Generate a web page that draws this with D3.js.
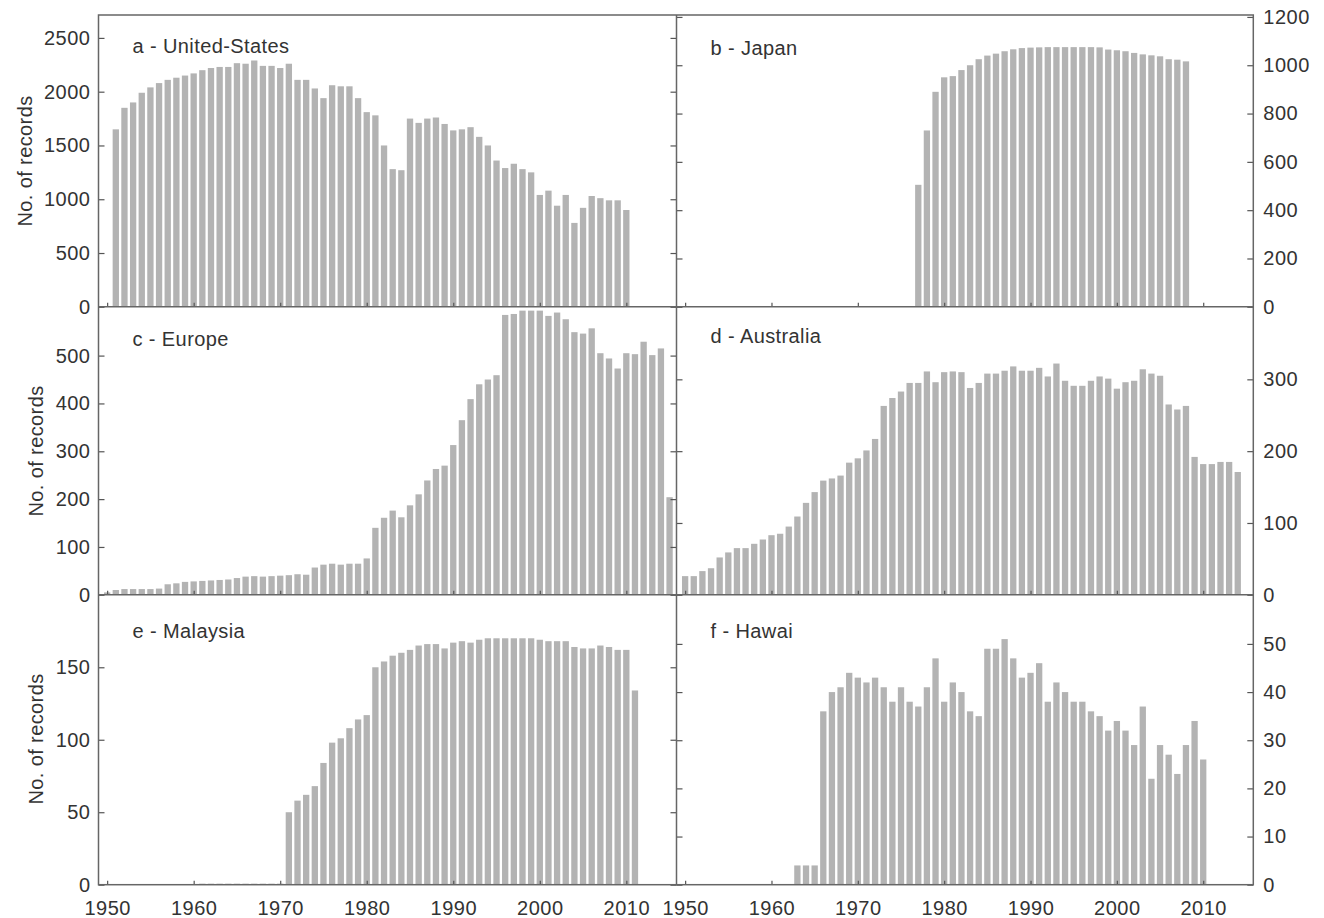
<!DOCTYPE html>
<meta charset="utf-8">
<style>
  body { margin: 0; background: #fff; }
  text { font-family: "Liberation Sans", Arial, Helvetica, sans-serif; fill: #333; }
</style>
<body>
<div id="chart"></div>
<script src="https://d3js.org/d3.v7.min.js"></script>
<script>
// ---- data ----
var usStart = 1951;
var usValues = [1650, 1850, 1900, 1990, 2040, 2080, 2110, 2130, 2150, 2170,
  2200, 2220, 2230, 2230, 2265, 2260, 2290, 2240, 2240, 2220,
  2260, 2110, 2110, 2030, 1940, 2060, 2050, 2050, 1940, 1810,
  1780, 1500, 1280, 1270, 1750, 1710, 1750, 1760, 1700, 1640,
  1650, 1670, 1580, 1500, 1360, 1290, 1330, 1280, 1250, 1040,
  1080, 940, 1040, 780, 920, 1030, 1010, 990, 990, 900];

var japanStart = 1977;
var japanValues = [505, 730, 890, 950, 955, 980, 1000, 1025, 1040, 1048,
  1058, 1066, 1071, 1073, 1074, 1075, 1075, 1075, 1075, 1075,
  1075, 1074, 1065, 1062, 1058, 1051, 1045, 1041, 1037, 1025,
  1023, 1016];

var europeStart = 1950;
var europeValues = [5, 10, 12, 12, 12, 12, 13, 22, 24, 27,
  28, 29, 30, 31, 32, 35, 38, 39, 38, 39,
  40, 41, 43, 42, 57, 63, 65, 63, 65, 65,
  76, 140, 161, 176, 162, 187, 210, 239, 263, 270,
  313, 365, 409, 440, 450, 459, 585, 587, 594, 594,
  594, 583, 590, 576, 549, 546, 557, 505, 494, 473,
  505, 503, 529, 501, 515, 204];

var australiaStart = 1950;
var australiaValues = [26, 26, 33, 37, 52, 59, 65, 65, 71, 77,
  83, 85, 95, 109, 128, 143, 159, 162, 166, 184,
  190, 201, 217, 263, 274, 283, 295, 295, 311, 296,
  310, 311, 310, 288, 295, 308, 308, 312, 318, 312,
  312, 316, 304, 322, 298, 291, 291, 298, 304, 301,
  287, 296, 298, 314, 308, 305, 265, 258, 263, 192,
  182, 182, 185, 185, 171];

var malaysiaStart = 1961;
var malaysiaValues = [0.7, 0.7, 0.7, 0.7, 0.7, 0.7, 0.7, 0.7, 0.7, 0.7,
  50, 58, 62, 68, 84, 98, 101, 108, 114, 117,
  150, 154, 158, 160, 162, 165, 166, 166, 163, 167,
  168, 167, 169, 170, 170, 170, 170, 170, 170, 169,
  168, 168, 168, 164, 163, 163, 165, 164, 162, 162, 134];

var hawaiStart = 1963;
var hawaiValues = [4, 4, 4, 36, 40, 41, 44, 43, 42, 43,
  41, 38, 41, 38, 37, 41, 47, 38, 42, 40,
  36, 35, 49, 49, 51, 47, 43, 44, 46, 38,
  42, 40, 38, 38, 36, 35, 32, 34, 32, 29,
  37, 22, 29, 27, 23, 29, 34, 26];

var panelNames = ["a - United-States", "b - Japan", "c - Europe",
  "d - Australia", "e - Malaysia", "f - Hawai"];

var usTicks = [0, 500, 1000, 1500, 2000, 2500];
var japanTicks = [0, 200, 400, 600, 800, 1000, 1200];
var europeTicks = [0, 100, 200, 300, 400, 500];
var australiaTicks = [0, 100, 200, 300];
var malaysiaTicks = [0, 50, 100, 150];
var hawaiTicks = [0, 10, 20, 30, 40, 50];
var yearTicks = [1950, 1960, 1970, 1980, 1990, 2000, 2010];
var yTitle = "No. of records";

// ---- layout ----
var width = 1324, height = 918;
var cols = [{ x0: 98.5, x1: 676.5 }, { x0: 676.5, x1: 1253.3 }];
var rows = [{ y0: 15, y1: 306.8 }, { y0: 306.8, y1: 594.8 }, { y0: 594.8, y1: 884.7 }];
var xDomain = [1949, 2015.8];

var panels = [
  { name: panelNames[0], start: usStart, values: usValues, ticks: usTicks, top: 2713, labelY: 31 },
  { name: panelNames[1], start: japanStart, values: japanValues, ticks: japanTicks, top: 1208, labelY: 33 },
  { name: panelNames[2], start: europeStart, values: europeValues, ticks: europeTicks, top: 602, labelY: 32 },
  { name: panelNames[3], start: australiaStart, values: australiaValues, ticks: australiaTicks, top: 401, labelY: 29 },
  { name: panelNames[4], start: malaysiaStart, values: malaysiaValues, ticks: malaysiaTicks, top: 200, labelY: 36 },
  { name: panelNames[5], start: hawaiStart, values: hawaiValues, ticks: hawaiTicks, top: 60.2, labelY: 36 }
];
var titlePos = [[25, 161], [36, 451], [36, 739]];

var svg = d3.select("#chart")
  .append("svg")
  .attr("width", width)
  .attr("height", height);

panels.forEach(function (p, i) {
  var col = cols[i % 2], row = rows[Math.floor(i / 2)];
  var isLeft = i % 2 === 0, isBottom = Math.floor(i / 2) === 2;

  var x = d3.scaleLinear().domain(xDomain).range([col.x0, col.x1]);
  var y = d3.scaleLinear().domain([0, p.top]).range([row.y1, row.y0]);
  var bw = (x(1951) - x(1950)) * 0.73;

  var data = p.values.map(function (v, j) { return { year: p.start + j, value: v }; });

  var g = svg.append("g");

  g.selectAll("rect.bar")
    .data(data)
    .enter()
    .append("rect")
    .attr("class", "bar")
    .attr("x", function (d) { return x(d.year) - bw / 2; })
    .attr("y", function (d) { return y(d.value); })
    .attr("width", bw)
    .attr("height", function (d) { return y(0) - y(d.value); })
    .attr("fill", "#b3b3b3");

  // left side ticks (inward)
  var left = g.append("g")
    .attr("transform", "translate(" + col.x0 + ",0)")
    .call(d3.axisLeft(y).tickValues(p.ticks).tickSizeInner(-6).tickSizeOuter(0)
      .tickPadding(8).tickFormat(isLeft ? d3.format("d") : ""));

  // right side ticks (inward)
  var right = g.append("g")
    .attr("transform", "translate(" + col.x1 + ",0)")
    .call(d3.axisRight(y).tickValues(p.ticks).tickSizeInner(-6).tickSizeOuter(0)
      .tickPadding(10).tickFormat(isLeft ? "" : d3.format("d")));

  // bottom ticks
  var bottom = g.append("g")
    .attr("transform", "translate(0," + row.y1 + ")")
    .call(d3.axisBottom(x).tickValues(yearTicks).tickSizeInner(-4).tickSizeOuter(0)
      .tickPadding(16).tickFormat(isBottom ? d3.format("d") : ""));

  [left, right, bottom].forEach(function (a) {
    a.select(".domain").remove();
    a.selectAll(".tick line").attr("stroke", "#555").attr("stroke-width", 1.2);
    a.selectAll(".tick text")
      .style("font-size", "20px")
      .style("letter-spacing", "0.5px")
      .attr("fill", "#333");
  });

  g.append("text")
    .attr("x", col.x0 + 34)
    .attr("y", row.y0 + p.labelY)
    .attr("dy", "0.35em")
    .style("font-size", "20px")
    .style("letter-spacing", "0.4px")
    .text(p.name);

  if (isLeft) {
    var tp = titlePos[Math.floor(i / 2)];
    g.append("text")
      .attr("transform", "translate(" + tp[0] + "," + tp[1] + ") rotate(-90)")
      .attr("text-anchor", "middle")
      .attr("dy", "0.35em")
      .style("font-size", "20px")
      .style("letter-spacing", "0.4px")
      .text(yTitle);
  }
});

// frame
var frame = svg.append("g")
  .attr("fill", "none")
  .attr("stroke", "#666")
  .attr("stroke-width", 1.5);

frame.append("rect")
  .attr("x", cols[0].x0)
  .attr("y", rows[0].y0)
  .attr("width", cols[1].x1 - cols[0].x0)
  .attr("height", rows[2].y1 - rows[0].y0);

frame.selectAll("line.h")
  .data([rows[0].y1, rows[1].y1])
  .enter()
  .append("line")
  .attr("x1", cols[0].x0)
  .attr("x2", cols[1].x1)
  .attr("y1", function (d) { return d; })
  .attr("y2", function (d) { return d; });

frame.append("line")
  .attr("x1", cols[0].x1)
  .attr("x2", cols[0].x1)
  .attr("y1", rows[0].y0)
  .attr("y2", rows[2].y1);
</script>
</body>
